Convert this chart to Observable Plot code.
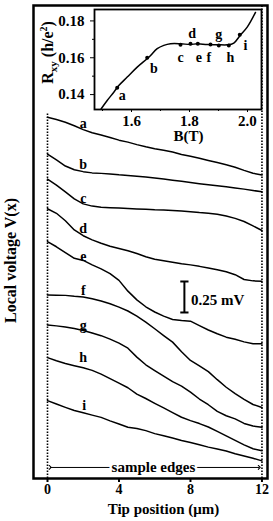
<!DOCTYPE html>
<html><head><meta charset="utf-8">
<script src="https://cdn.jsdelivr.net/npm/d3@7"></script>
<script src="https://cdn.jsdelivr.net/npm/@observablehq/plot@0.6"></script>
<style>
body{margin:0;background:#fff}
#wrap{position:relative;width:273px;height:521px}
#wrap svg{position:absolute;left:0;top:0}
</style></head><body><div id="wrap"></div>
<script>
const serif = "'Liberation Serif','DejaVu Serif',serif";

// ---- main panel: local voltage profiles (mV, offset), tip position (µm)
const tipPos = [0,0.5,1,1.5,2,2.5,3,3.5,4,4.5,5,5.5,6,6.5,7,7.5,8,8.5,9,9.5,10,10.5,11,11.5,12];
const curveA = [2.913,2.895,2.873,2.845,2.814,2.789,2.770,2.751,2.729,2.713,2.693,2.675,2.660,2.647,2.633,2.614,2.599,2.583,2.565,2.548,2.530,2.511,2.485,2.462,2.448];
const curveB = [2.617,2.569,2.520,2.490,2.475,2.465,2.461,2.456,2.449,2.444,2.438,2.431,2.424,2.415,2.406,2.397,2.387,2.378,2.369,2.361,2.353,2.344,2.334,2.323,2.313];
const curveC = [2.415,2.367,2.312,2.255,2.215,2.197,2.188,2.184,2.181,2.177,2.174,2.171,2.167,2.165,2.162,2.157,2.152,2.145,2.140,2.132,2.117,2.098,2.073,2.037,2.000];
const curveD = [2.176,2.139,2.079,2.005,1.958,1.925,1.898,1.873,1.855,1.837,1.815,1.789,1.768,1.756,1.745,1.732,1.723,1.711,1.697,1.684,1.667,1.644,1.605,1.594,1.591];
const curveE = [1.910,1.869,1.822,1.776,1.759,1.723,1.691,1.652,1.598,1.511,1.441,1.385,1.343,1.310,1.283,1.274,1.269,1.233,1.198,1.167,1.140,1.123,1.102,1.086,1.086];
const curveF = [1.481,1.479,1.477,1.469,1.463,1.449,1.431,1.410,1.382,1.351,1.309,1.262,1.208,1.153,1.100,1.023,0.952,0.909,0.862,0.797,0.736,0.685,0.638,0.597,0.573];
const curveG = [1.239,1.231,1.222,1.209,1.194,1.173,1.152,1.124,1.092,1.051,0.979,0.917,0.870,0.825,0.781,0.745,0.696,0.641,0.595,0.541,0.506,0.481,0.444,0.423,0.413];
const curveH = [0.975,0.950,0.928,0.910,0.893,0.872,0.842,0.806,0.769,0.732,0.681,0.645,0.606,0.569,0.531,0.494,0.467,0.443,0.415,0.380,0.344,0.307,0.271,0.240,0.224];
const curveI = [0.628,0.601,0.574,0.548,0.530,0.511,0.493,0.465,0.439,0.413,0.404,0.386,0.362,0.344,0.326,0.307,0.290,0.272,0.253,0.238,0.222,0.200,0.181,0.163,0.142];
const letters = ["a","b","c","d","e","f","g","h","i"];
const curveLabelX = [2,2,2,2,2,2,2,2,2.05];
const curveLabelV = [2.860,2.530,2.255,2.013,1.793,1.516,1.234,0.978,0.589];
const xTicks = [0,4,8,12];
const scaleBarX = 7.66, scaleBarLow = 1.339, scaleBarSize = 0.25;

// ---- inset: Hall resistance vs field
const bField = [1.4955,1.5162,1.539,1.5562,1.5852,1.6197,1.6597,1.6886,1.7114,1.7345,1.769,1.8034,1.8266,1.861,1.8955,1.93,1.9528,1.9759,1.999,2.0276];
const rxy = [0.1323,0.1368,0.1413,0.1449,0.1495,0.1549,0.1603,0.1649,0.1667,0.1676,0.1676,0.1672,0.1676,0.1672,0.1671,0.1670,0.1680,0.1724,0.1766,0.1846];
const markerB = [1.5507,1.6541,1.769,1.8034,1.8286,1.8724,1.901,1.9355,1.9734];
const markerR = [0.1437,0.1600,0.1671,0.1676,0.1676,0.1672,0.1667,0.1667,0.1725];
const markerLabelB = [1.5679,1.6769,1.769,1.8093,1.8321,1.8666,1.901,1.9414,1.9931];
const markerLabelR = [0.1395,0.1540,0.1603,0.1730,0.1603,0.1603,0.1727,0.1603,0.1667];
const bTicks = [1.6,1.8,2.0];
const rTicks = [0.14,0.16,0.18];

const curves = [curveA,curveB,curveC,curveD,curveE,curveF,curveG,curveH,curveI];
const lineData = letters.flatMap((k,j)=>tipPos.map((x,i)=>({k, x, v: curves[j][i]})));
const labelData = letters.map((k,j)=>({k, x: curveLabelX[j], v: curveLabelV[j]}));
const bar = [
  {x1: scaleBarX, x2: scaleBarX, y1: scaleBarLow, y2: scaleBarLow + scaleBarSize},
  {x1: scaleBarX-0.23, x2: scaleBarX+0.23, y1: scaleBarLow, y2: scaleBarLow},
  {x1: scaleBarX-0.23, x2: scaleBarX+0.23, y1: scaleBarLow+scaleBarSize, y2: scaleBarLow+scaleBarSize}
];

const main = Plot.plot({
  width: 273, height: 521,
  marginLeft: 33, marginRight: 6, marginTop: 5, marginBottom: 43,
  style: {fontFamily: serif, fontSize: "14px", fontWeight: "bold", background: "transparent"},
  x: {domain: [-0.783, 12.31], label: null},
  y: {domain: [0, 3.815], axis: null, label: null},
  marks: [
    Plot.ruleX([0], {y1: 0, y2: 2.94, strokeDasharray: "1.6 1.4", strokeWidth: 1.6}),
    Plot.ruleX([12], {y1: 0, y2: 3.815, strokeDasharray: "1.6 1.4", strokeWidth: 1.6}),
    Plot.lineY(lineData, {x: "x", y: "v", z: "k", stroke: "black", strokeWidth: 1.5}),
    Plot.text(labelData, {x: "x", y: "v", text: "k", fontSize: 14, fontWeight: "bold"}),
    Plot.link(bar, {x1: "x1", x2: "x2", y1: "y1", y2: "y2", strokeWidth: 2}),
    Plot.text(["0.25 mV"], {x: scaleBarX + 0.37, y: scaleBarLow + 0.096, textAnchor: "start", fontSize: 15}),
    Plot.link([{x1: 0.15, x2: 11.85, y: 0.089}], {x1: "x1", x2: "x2", y1: "y", y2: "y", strokeWidth: 1, markerStart: "arrow", markerEnd: "arrow"}),
    Plot.text(["sample edges"], {x: 5.93, y: 0.089, fontSize: 15, stroke: "white", strokeWidth: 5, fill: "black"}),
    Plot.frame({strokeWidth: 2.5}),
    Plot.axisX({ticks: xTicks, tickSize: 4, tickPadding: 2, strokeWidth: 2, fontSize: 14, label: null}),
    Plot.text(["Tip position (μm)"], {x: 6.49, y: -0.245, fontSize: 15}),
    Plot.text(["Local voltage V(x)"], {x: -2.07, y: 1.758, rotate: -90, fontSize: 16})
  ]
});

const curveRows = bField.map((b,i)=>({b, r: rxy[i]}));
const markerRows = markerB.map((b,i)=>({b, r: markerR[i]}));
const markerLabelRows = letters.map((k,i)=>({k, b: markerLabelB[i], r: markerLabelR[i]}));

const inset = Plot.plot({
  width: 273, height: 150,
  marginLeft: 94, marginRight: 12, marginTop: 9, marginBottom: 41,
  style: {fontFamily: serif, fontSize: "14px", fontWeight: "bold", background: "transparent"},
  x: {domain: [1.4724, 2.0483], label: null},
  y: {domain: [0.1319, 0.1862], label: null},
  marks: [
    Plot.frame({fill: "white", stroke: "black", strokeWidth: 1.8}),
    Plot.line(curveRows, {x: "b", y: "r", curve: "catmull-rom", strokeWidth: 1.5}),
    Plot.dot(markerRows, {x: "b", y: "r", r: 2, fill: "black"}),
    Plot.text(markerLabelRows, {x: "b", y: "r", text: "k", fontSize: 14}),
    Plot.axisX({ticks: bTicks, tickSize: 3, tickPadding: 3, tickFormat: d => d.toFixed(1), fontSize: 15, label: null}),
    Plot.axisX({ticks: [1.5,1.7,1.9], tickSize: 2, text: null, label: null}),
    Plot.axisY({ticks: rTicks, tickSize: 4, tickPadding: 6, tickFormat: d => d.toFixed(2), fontSize: 15, label: null}),
    Plot.axisY({ticks: [0.15,0.17], tickSize: 2, text: null, label: null}),
    Plot.text(["B(T)"], {x: 1.7966, y: 0.1172, fontSize: 15}),
    Plot.text(["Rxy (h/e2)"], {x: 1.3103, y: 0.1629, rotate: -90, fontSize: 16})
  ]
});

inset.querySelectorAll("text").forEach(t => {
  if (t.textContent === "Rxy (h/e2)") {
    t.innerHTML = 'R<tspan dy="4" font-size="11">xy</tspan><tspan dy="-4"> (h/e</tspan><tspan dy="-6" font-size="10">2</tspan><tspan dy="6">)</tspan>';
  }
});

const wrap = document.getElementById("wrap");
wrap.appendChild(main);
wrap.appendChild(inset);
</script></body></html>
